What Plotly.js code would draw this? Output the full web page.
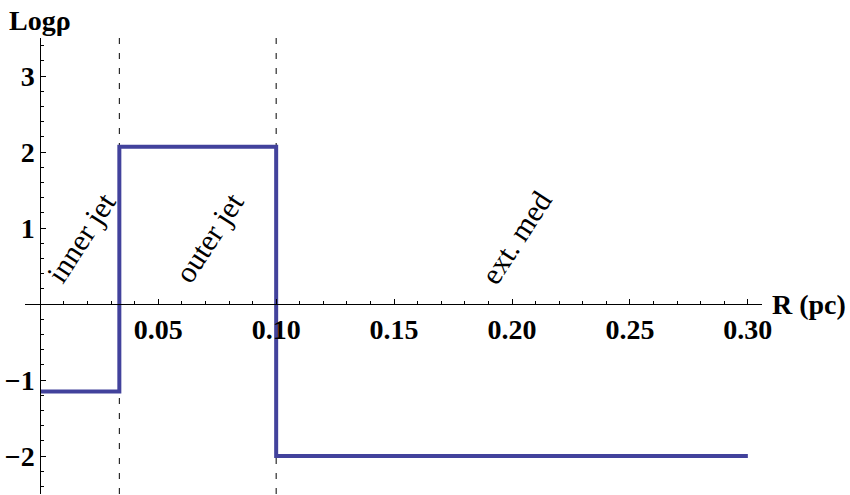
<!DOCTYPE html>
<html>
<head>
<meta charset="utf-8">
<script src="https://cdn.plot.ly/plotly-3.0.1.min.js"></script>
<style>
  body { margin: 0; background: #fff; font-family: "Liberation Serif"; }
  #chart text { font-family: "Liberation Serif" !important; }
  .warm { position: absolute; left: 0; top: 0; font-size: 28px; color: #fff; }
</style>
</head>
<body>
<span class="warm">&nbsp;<b>&nbsp;</b></span>
<div id="chart" style="width:850px;height:495px"></div>
<script>
// Density profile: step edges (pc) and log density in each region
const edgesR = [0, 0.0335, 0.10, 0.30];
const logRho = [-1.15, 2.07, -2.0, -2.0];

// Region boundaries shown as dashed lines
const boundaries = [0.0335, 0.10];

// Region labels and where they sit
const regionNames = ["inner jet", "outer jet", "ext. med"];
const regionLabelR = [0.0172, 0.0715, 0.2016];
const regionLabelY = [0.88, 0.88, 0.88];

// Tick labels
const xTickVals = [0.05, 0.10, 0.15, 0.20, 0.25, 0.30];
const xTickText = ["0.05", "0.10", "0.15", "0.20", "0.25", "0.30"];
const yTickVals = [-2, -1, 1, 2, 3];
const yTickText = ["\u22122", "\u22121", "1", "2", "3"];

const xRange = [-0.0065, 0.3060];
const yRange = [-2.5, 3.5];

const serif = "Liberation Serif";

const traces = [];

// dashed boundary lines
boundaries.forEach(b => {
  traces.push({
    x: [b, b],
    y: yRange.slice(),
    type: "scatter",
    mode: "lines",
    line: { color: "#000", width: 1, dash: "6px,9px" },
    hoverinfo: "skip",
    showlegend: false
  });
});

// the step profile
traces.push({
  x: edgesR,
  y: logRho,
  type: "scatter",
  mode: "lines",
  line: { color: "#42429c", width: 4, shape: "hv" },
  showlegend: false
});

// where the axes cross (0,0) in paper fractions
const xAxisPos = (0 - yRange[0]) / (yRange[1] - yRange[0]);
const yAxisPos = (0 - xRange[0]) / (xRange[1] - xRange[0]);

const annotations = regionNames.map((name, i) => ({
  x: regionLabelR[i],
  y: regionLabelY[i],
  xref: "x",
  yref: "y",
  text: name,
  showarrow: false,
  textangle: -57,
  font: { family: serif, size: 30, color: "#000" }
}));

annotations.push({
  x: 0, xref: "x", xanchor: "center",
  y: 1, yref: "paper", yanchor: "bottom",
  text: "<b>Log\u03c1</b>",
  showarrow: false,
  font: { family: serif, size: 28, color: "#000" }
});

annotations.push({
  x: 1.0115, xref: "paper", xanchor: "left",
  y: 0, yref: "y", yanchor: "middle",
  text: "<b>R (pc)</b>",
  showarrow: false,
  font: { family: serif, size: 28, color: "#000" }
});

const layout = {
  width: 850,
  height: 495,
  margin: { l: 25, r: 87.5, t: 38, b: 1 },
  paper_bgcolor: "#fff",
  plot_bgcolor: "#fff",
  showlegend: false,
  font: { family: serif, color: "#000" },
  xaxis: {
    range: xRange,
    anchor: "free",
    position: xAxisPos,
    showgrid: false,
    zeroline: false,
    showline: true,
    linecolor: "#000",
    linewidth: 1,
    ticks: "inside",
    ticklen: 5,
    tickcolor: "#000",
    tickvals: xTickVals,
    ticktext: xTickText.map(t => "<b>" + t + "</b>"),
    tickfont: { family: serif, size: 28, color: "#000" },
    minor: { dtick: 0.01, tick0: 0, ticks: "inside", ticklen: 3, tickcolor: "#000", showgrid: false }
  },
  yaxis: {
    range: yRange,
    anchor: "free",
    position: yAxisPos,
    showgrid: false,
    zeroline: false,
    showline: true,
    linecolor: "#000",
    linewidth: 1,
    ticks: "inside",
    ticklen: 5,
    tickcolor: "#000",
    tickvals: yTickVals,
    ticktext: yTickText.map(t => "<b>" + t + "</b>"),
    tickfont: { family: serif, size: 28, color: "#000" },
    minor: { dtick: 0.2, tick0: 0, ticks: "inside", ticklen: 3, tickcolor: "#000", showgrid: false }
  },
  annotations: annotations
};

Plotly.newPlot("chart", traces, layout, { displayModeBar: false });
</script>
</body>
</html>
